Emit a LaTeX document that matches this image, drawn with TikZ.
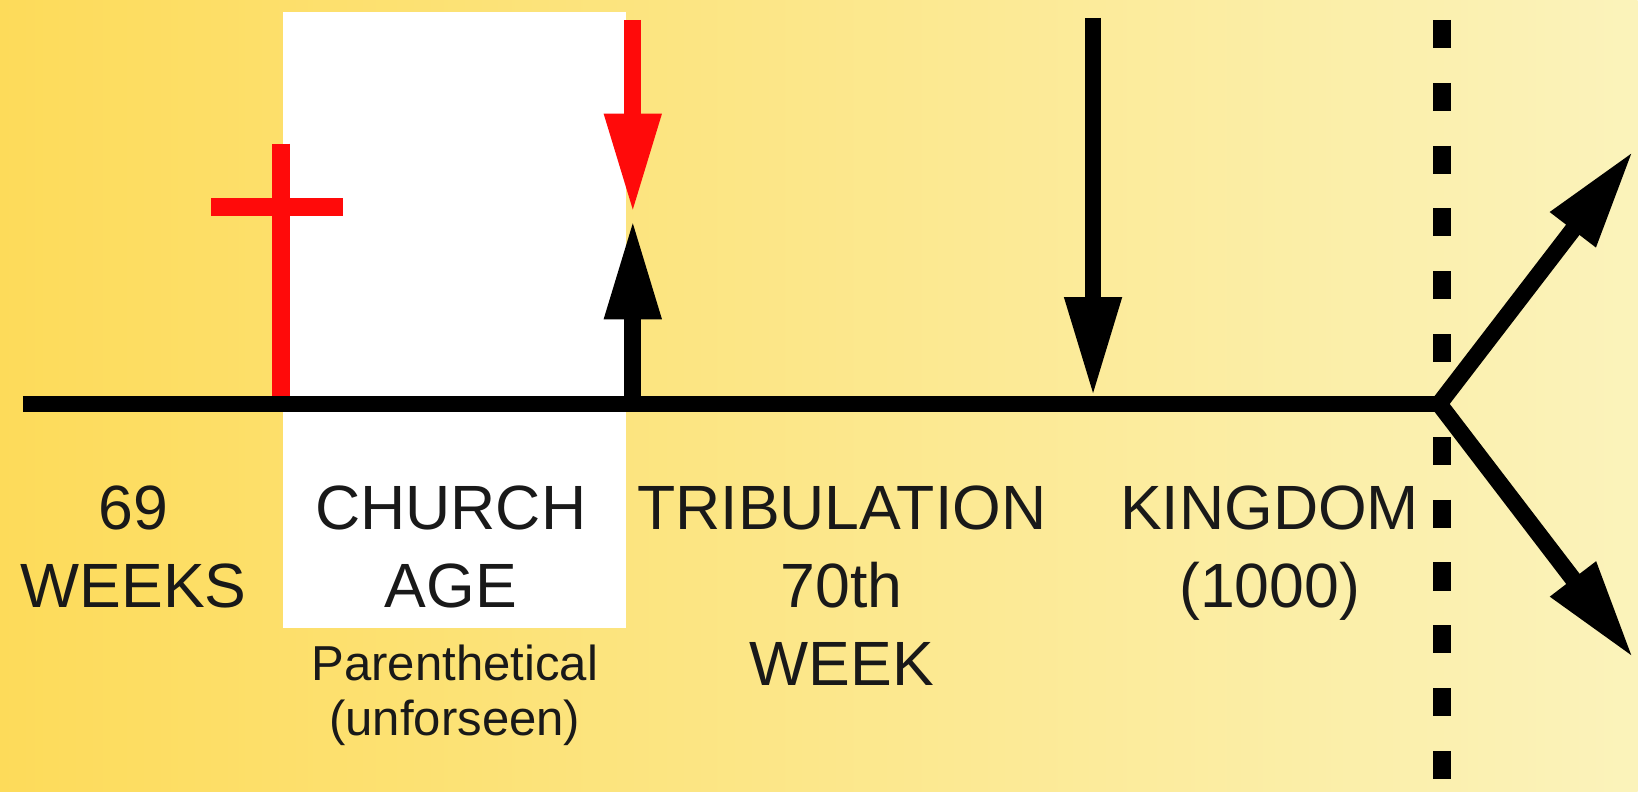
\documentclass[tikz,border=0pt]{standalone}
\usepackage{fontspec}
\setmainfont{Liberation Sans}
\usetikzlibrary{arrows.meta}

\definecolor{bgleft}{RGB}{253,219,90}
\definecolor{bgright}{RGB}{251,243,187}
\definecolor{crossred}{RGB}{255,10,10}

\begin{document}
\begin{tikzpicture}[
    x=0.0125cm, y=-0.0125cm,
    >={Triangle[length=35.6pt, width=18.9pt]},
    timeline/.style={line width=5.7pt, draw=black},
    shaft/.style={line width=6pt, ->},
    redbar/.style={line width=6.4pt, draw=crossred},
    divider/.style={line width=6.4pt, dash pattern=on 10pt off 12.4pt},
    era/.style={
        anchor=north, inner sep=0pt, align=center,
        text=black!90, font=\fontsize{22.3}{27.7}\selectfont},
    note/.style={
        anchor=north, inner sep=0pt, align=center,
        text=black!90, font=\fontsize{17.5}{19.6}\selectfont}]

% background and the parenthesis box
\shade[left color=bgleft, right color=bgright] (0,0) rectangle (1642,794);
\fill[white] (284,12) rectangle (628,630);

% points on the time line
\coordinate (start)      at (23,405);
\coordinate (calvary)    at (282,405);
\coordinate (crosstop)   at (282,144);
\coordinate (barleft)    at (212,208);
\coordinate (barright)   at (344,208);
\coordinate (rapture)    at (634.5,405);
\coordinate (raptip)     at (634.5,220);
\coordinate (heaven)     at (634.5,20);
\coordinate (heaventip)  at (634.5,214);
\coordinate (advtop)     at (1096,18);
\coordinate (advent)     at (1096,398);
\coordinate (fork)       at (1443,405);
\coordinate (upend)      at (1638,151);
\coordinate (downend)    at (1638,660);
\coordinate (divtop)     at (1446,20);
\coordinate (divabove)   at (1446,366);
\coordinate (divbelow)   at (1446,438);
\coordinate (divbottom)  at (1446,794);

% dividing line
\draw[divider] (divtop) -- (divabove);
\draw[divider] (divbelow) -- (divbottom);

% cross
\draw[redbar] (crosstop) -- (calvary);
\draw[redbar] (barleft) -- (barright);

% main line and the fork
\draw[timeline] (start) -- (fork);
\draw[timeline, line width=6pt, <->] (upend) -- (fork) -- (downend);

% arrows
\draw[shaft, color=crossred] (heaven) -- (heaventip);
\draw[shaft] (rapture) -- (raptip);
\draw[shaft] (advtop) -- (advent);

% labels
\node[era]  (weeks)   at (134,487)  {69\\WEEKS};
\node[era]  (church)  at (452,487)  {CHURCH\\AGE};
\node[note] (paren)   at (456,646)  {Parenthetical\\(unforseen)};
\node[era]  (trib)    at (844,487)  {TRIBULATION\\70th\\WEEK};
\node[era]  (kingdom) at (1273,487) {KINGDOM\\(1000)};

\end{tikzpicture}
\end{document}
